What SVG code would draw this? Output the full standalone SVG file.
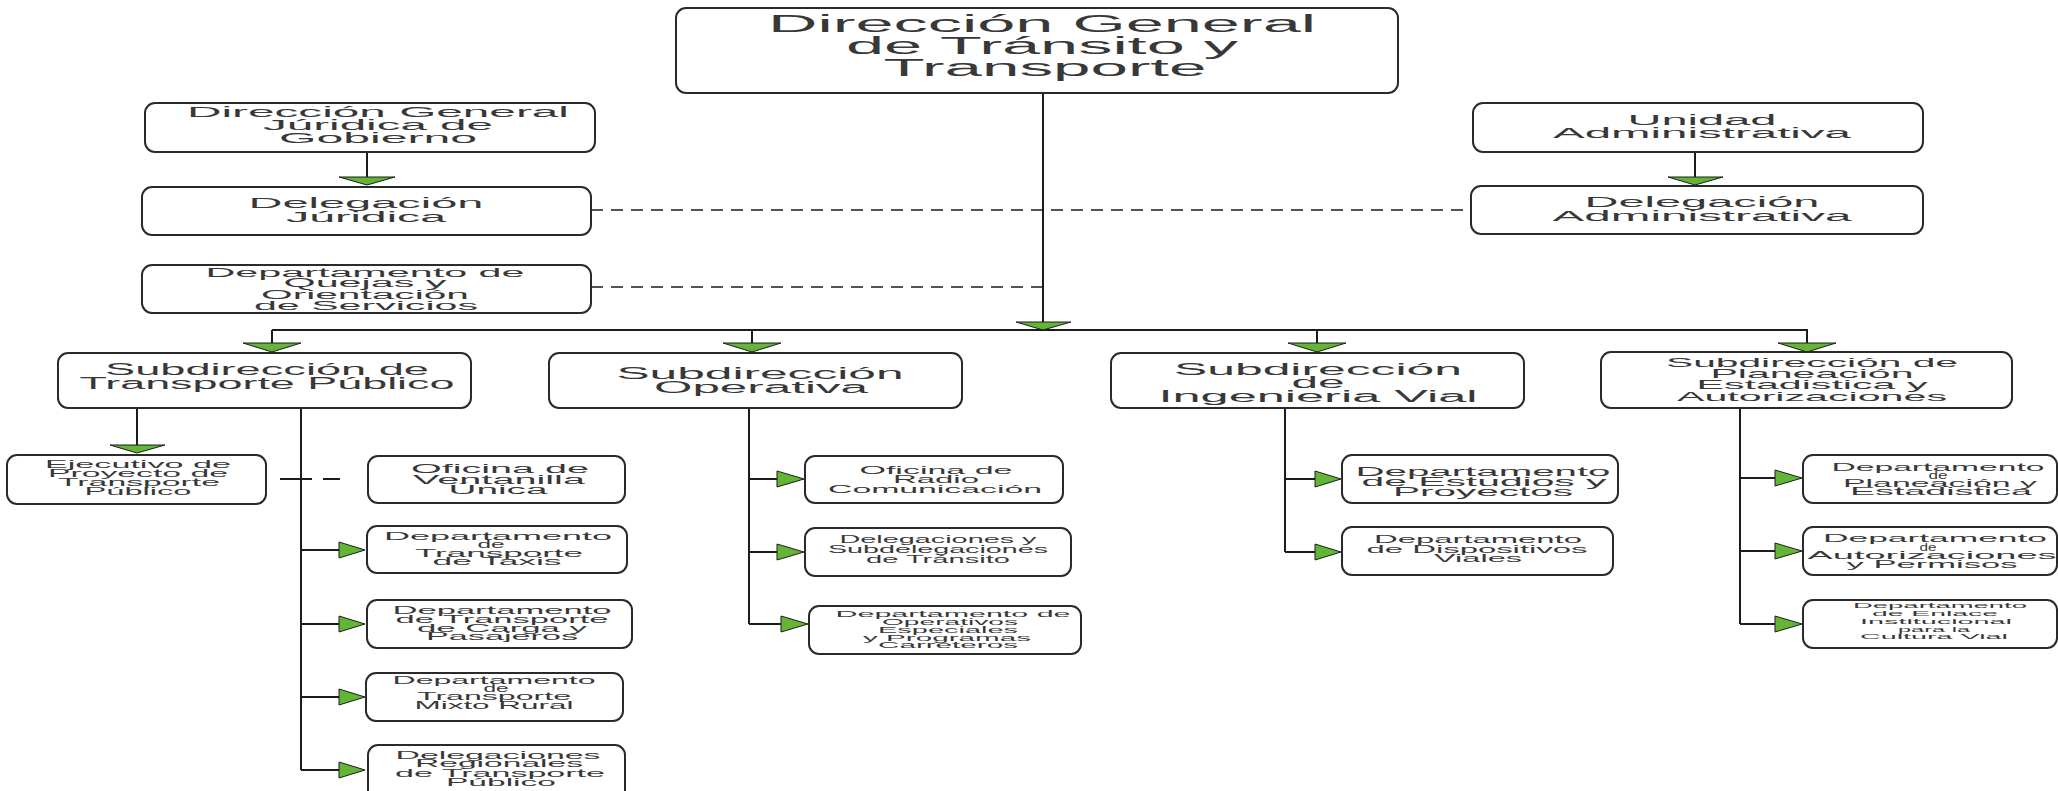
<svg xmlns="http://www.w3.org/2000/svg" width="2058" height="791" viewBox="0 0 2058 791">
  <style>
    .box { fill: #ffffff; stroke: #2a2a2a; stroke-width: 2; }
    .lbl { font-family: "Liberation Sans", Arial, sans-serif; fill: #383838; text-anchor: middle; }
    .wire { fill: none; stroke: #1c1c1c; stroke-width: 2; }
    .dash { fill: none; stroke: #1c1c1c; stroke-width: 1.5; stroke-dasharray: 12 8; }
    .head { fill: #62b535; stroke: #1c1c1c; stroke-width: 1; }
  </style>

  <!-- connectors -->
  <g id="connectors">
    <!-- main trunk and bus -->
    <path class="wire" d="M1043 93 V322"/>
    <path class="wire" d="M272 330 H1808" stroke-width="1.5"/>
    <path class="dash" d="M591 210 H1471"/>
    <path class="dash" d="M591 287 H1043"/>
    <polygon class="head" points="1016,322 1071,322 1043,330"/>

    <!-- drops to sub-directorates -->
    <path class="wire" d="M272 330 V343 M752 330 V343 M1317 330 V343 M1807 330 V343"/>
    <polygon class="head" points="243,343 301,343 272,352"/>
    <polygon class="head" points="723,343 781,343 752,352"/>
    <polygon class="head" points="1288,343 1346,343 1317,352"/>
    <polygon class="head" points="1778,343 1836,343 1807,352"/>

    <!-- side chains -->
    <path class="wire" d="M367 152 V177"/>
    <polygon class="head" points="339,177 395,177 367,185"/>
    <path class="wire" d="M1695 152 V177"/>
    <polygon class="head" points="1668,177 1723,177 1695,185"/>

    <!-- Transporte Público branch -->
    <path class="wire" d="M137 408 V445"/>
    <polygon class="head" points="110,445 165,445 137,453"/>
    <path class="wire" d="M301 408 V770 M301 550 H339 M301 624 H339 M301 697 H339 M301 770 H339"/>
    <path class="wire" d="M280 479 H312 M323 479 H340" stroke-width="1.5"/>
    <polygon class="head" points="339,542 339,558 365,550"/>
    <polygon class="head" points="339,616 339,632 365,624"/>
    <polygon class="head" points="339,689 339,705 365,697"/>
    <polygon class="head" points="339,762 339,778 365,770"/>

    <!-- Operativa branch -->
    <path class="wire" d="M749 408 V624 M749 479 H777 M749 552 H777 M749 624 H781"/>
    <polygon class="head" points="777,471 777,487 804,479"/>
    <polygon class="head" points="777,544 777,560 804,552"/>
    <polygon class="head" points="781,616 781,632 808,624"/>

    <!-- Ingenieria Vial branch -->
    <path class="wire" d="M1285 408 V552 M1285 479 H1315 M1285 552 H1315"/>
    <polygon class="head" points="1315,471 1315,487 1341,479"/>
    <polygon class="head" points="1315,544 1315,560 1341,552"/>

    <!-- Planeacion branch -->
    <path class="wire" d="M1740 408 V624 M1740 478 H1775 M1740 551 H1775 M1740 624 H1775"/>
    <polygon class="head" points="1775,470 1775,486 1802,478"/>
    <polygon class="head" points="1775,543 1775,559 1802,551"/>
    <polygon class="head" points="1775,616 1775,632 1802,624"/>
  </g>

  <!-- top directorate -->
  <g id="dg-transito">
    <rect class="box" x="676" y="8" width="722" height="85" rx="10"/>
    <g class="lbl" font-size="23">
      <text x="1042" y="32" textLength="548" lengthAdjust="spacingAndGlyphs">Dirección General</text>
      <text x="1042" y="54" textLength="392" lengthAdjust="spacingAndGlyphs">de Tránsito y</text>
      <text x="1045" y="76" textLength="323" lengthAdjust="spacingAndGlyphs">Transporte</text>
    </g>
  </g>

  <g id="dg-juridica">
    <rect class="box" x="145" y="103" width="450" height="49" rx="10"/>
    <g class="lbl" font-size="14">
      <text x="378" y="117" textLength="382" lengthAdjust="spacingAndGlyphs">Dirección General</text>
      <text x="378" y="130" textLength="230" lengthAdjust="spacingAndGlyphs">Júridica de</text>
      <text x="378" y="143" textLength="198" lengthAdjust="spacingAndGlyphs">Gobierno</text>
    </g>
  </g>

  <g id="delegacion-juridica">
    <rect class="box" x="142" y="187" width="449" height="48" rx="10"/>
    <g class="lbl" font-size="14">
      <text x="366" y="208" textLength="235" lengthAdjust="spacingAndGlyphs">Delegación</text>
      <text x="366" y="222" textLength="160" lengthAdjust="spacingAndGlyphs">Júridica</text>
    </g>
  </g>

  <g id="quejas">
    <rect class="box" x="142" y="265" width="449" height="48" rx="10"/>
    <g class="lbl" font-size="12">
      <text x="365" y="277" textLength="319" lengthAdjust="spacingAndGlyphs">Departamento de</text>
      <text x="365" y="287" textLength="163" lengthAdjust="spacingAndGlyphs">Quejas y</text>
      <text x="365" y="299" textLength="208" lengthAdjust="spacingAndGlyphs">Orientación</text>
      <text x="366" y="310" textLength="224" lengthAdjust="spacingAndGlyphs">de Servicios</text>
    </g>
  </g>

  <g id="unidad-administrativa">
    <rect class="box" x="1473" y="103" width="450" height="49" rx="10"/>
    <g class="lbl" font-size="14">
      <text x="1702" y="125" textLength="149" lengthAdjust="spacingAndGlyphs">Unidad</text>
      <text x="1702" y="138" textLength="298" lengthAdjust="spacingAndGlyphs">Administrativa</text>
    </g>
  </g>

  <g id="delegacion-administrativa">
    <rect class="box" x="1471" y="186" width="452" height="48" rx="10"/>
    <g class="lbl" font-size="14">
      <text x="1702" y="207" textLength="235" lengthAdjust="spacingAndGlyphs">Delegación</text>
      <text x="1702" y="221" textLength="299" lengthAdjust="spacingAndGlyphs">Administrativa</text>
    </g>
  </g>

  <!-- sub-directorates -->
  <g id="sub-transporte-publico">
    <rect class="box" x="58" y="353" width="413" height="55" rx="10"/>
    <g class="lbl" font-size="16">
      <text x="267" y="375" textLength="324" lengthAdjust="spacingAndGlyphs">Subdirección de</text>
      <text x="267" y="389" textLength="375" lengthAdjust="spacingAndGlyphs">Transporte Público</text>
    </g>
  </g>

  <g id="sub-operativa">
    <rect class="box" x="549" y="353" width="413" height="55" rx="10"/>
    <g class="lbl" font-size="16">
      <text x="760" y="379" textLength="287" lengthAdjust="spacingAndGlyphs">Subdirección</text>
      <text x="761" y="393" textLength="214" lengthAdjust="spacingAndGlyphs">Operativa</text>
    </g>
  </g>

  <g id="sub-ingenieria-vial">
    <rect class="box" x="1111" y="353" width="413" height="55" rx="10"/>
    <g class="lbl" font-size="16">
      <text x="1318" y="375" textLength="288" lengthAdjust="spacingAndGlyphs">Subdirección</text>
      <text x="1318" y="388" textLength="53" lengthAdjust="spacingAndGlyphs">de</text>
      <text x="1318" y="402" textLength="319" lengthAdjust="spacingAndGlyphs">Ingenieria Vial</text>
    </g>
  </g>

  <g id="sub-planeacion">
    <rect class="box" x="1601" y="352" width="411" height="56" rx="10"/>
    <g class="lbl" font-size="13">
      <text x="1812" y="367" textLength="292" lengthAdjust="spacingAndGlyphs">Subdirección de</text>
      <text x="1812" y="378" textLength="203" lengthAdjust="spacingAndGlyphs">Planeación</text>
      <text x="1812" y="389" textLength="231" lengthAdjust="spacingAndGlyphs">Estadistica y</text>
      <text x="1812" y="401" textLength="270" lengthAdjust="spacingAndGlyphs">Autorizaciones</text>
    </g>
  </g>

  <!-- Transporte Público departments -->
  <g id="ejecutivo-proyecto">
    <rect class="box" x="7" y="455" width="259" height="49" rx="10"/>
    <g class="lbl" font-size="11">
      <text x="138" y="468" textLength="186" lengthAdjust="spacingAndGlyphs">Ejecutivo de</text>
      <text x="138" y="477" textLength="180" lengthAdjust="spacingAndGlyphs">Proyecto de</text>
      <text x="139" y="486" textLength="162" lengthAdjust="spacingAndGlyphs">Transporte</text>
      <text x="138" y="495" textLength="107" lengthAdjust="spacingAndGlyphs">Público</text>
    </g>
  </g>

  <g id="ventanilla-unica">
    <rect class="box" x="368" y="456" width="257" height="47" rx="10"/>
    <g class="lbl" font-size="12">
      <text x="500" y="473" textLength="178" lengthAdjust="spacingAndGlyphs">Oficina de</text>
      <text x="499" y="484" textLength="172" lengthAdjust="spacingAndGlyphs">Ventanilla</text>
      <text x="498" y="494" textLength="99" lengthAdjust="spacingAndGlyphs">Única</text>
    </g>
  </g>

  <g id="transporte-taxis">
    <rect class="box" x="367" y="526" width="260" height="47" rx="10"/>
    <g class="lbl" font-size="10">
      <text x="498" y="540" textLength="228" lengthAdjust="spacingAndGlyphs">Departamento</text>
      <text x="491" y="548" textLength="27" lengthAdjust="spacingAndGlyphs">de</text>
      <text x="499" y="557" textLength="168" lengthAdjust="spacingAndGlyphs">Transporte</text>
      <text x="497" y="565" textLength="129" lengthAdjust="spacingAndGlyphs">de Taxis</text>
    </g>
  </g>

  <g id="transporte-carga">
    <rect class="box" x="367" y="600" width="265" height="48" rx="10"/>
    <g class="lbl" font-size="10">
      <text x="502" y="614" textLength="219" lengthAdjust="spacingAndGlyphs">Departamento</text>
      <text x="502" y="623" textLength="213" lengthAdjust="spacingAndGlyphs">de Transporte</text>
      <text x="502" y="632" textLength="170" lengthAdjust="spacingAndGlyphs">de Carga y</text>
      <text x="502" y="640" textLength="152" lengthAdjust="spacingAndGlyphs">Pasajeros</text>
    </g>
  </g>

  <g id="transporte-mixto">
    <rect class="box" x="366" y="673" width="257" height="48" rx="10"/>
    <g class="lbl" font-size="10">
      <text x="494" y="684" textLength="203" lengthAdjust="spacingAndGlyphs">Departamento</text>
      <text x="496" y="692" textLength="25" lengthAdjust="spacingAndGlyphs">de</text>
      <text x="494" y="700" textLength="154" lengthAdjust="spacingAndGlyphs">Transporte</text>
      <text x="494" y="709" textLength="159" lengthAdjust="spacingAndGlyphs">Mixto Rural</text>
    </g>
  </g>

  <g id="delegaciones-regionales">
    <rect class="box" x="368" y="745" width="257" height="60" rx="10"/>
    <g class="lbl" font-size="10">
      <text x="498" y="759" textLength="205" lengthAdjust="spacingAndGlyphs">Delegaciones</text>
      <text x="499" y="767" textLength="168" lengthAdjust="spacingAndGlyphs">Regionales</text>
      <text x="500" y="777" textLength="210" lengthAdjust="spacingAndGlyphs">de Transporte</text>
      <text x="501" y="786" textLength="110" lengthAdjust="spacingAndGlyphs">Público</text>
    </g>
  </g>

  <!-- Operativa departments -->
  <g id="radio-comunicacion">
    <rect class="box" x="805" y="456" width="258" height="47" rx="10"/>
    <g class="lbl" font-size="11">
      <text x="936" y="474" textLength="153" lengthAdjust="spacingAndGlyphs">Oficina de</text>
      <text x="936" y="483" textLength="86" lengthAdjust="spacingAndGlyphs">Radio</text>
      <text x="935" y="493" textLength="214" lengthAdjust="spacingAndGlyphs">Comunicación</text>
    </g>
  </g>

  <g id="delegaciones-transito">
    <rect class="box" x="805" y="528" width="266" height="48" rx="10"/>
    <g class="lbl" font-size="10">
      <text x="938" y="543" textLength="197" lengthAdjust="spacingAndGlyphs">Delegaciones y</text>
      <text x="938" y="553" textLength="220" lengthAdjust="spacingAndGlyphs">Subdelegaciones</text>
      <text x="938" y="563" textLength="144" lengthAdjust="spacingAndGlyphs">de Tránsito</text>
    </g>
  </g>

  <g id="operativos-especiales">
    <rect class="box" x="809" y="606" width="272" height="48" rx="10"/>
    <g class="lbl" font-size="9">
      <text x="953" y="617" textLength="235" lengthAdjust="spacingAndGlyphs">Departamento de</text>
      <text x="950" y="625" textLength="136" lengthAdjust="spacingAndGlyphs">Operativos</text>
      <text x="948" y="633" textLength="140" lengthAdjust="spacingAndGlyphs">Especiales</text>
      <text x="947" y="641" textLength="168" lengthAdjust="spacingAndGlyphs">y Programas</text>
      <text x="948" y="648" textLength="140" lengthAdjust="spacingAndGlyphs">Carreteros</text>
    </g>
  </g>

  <!-- Ingenieria Vial departments -->
  <g id="estudios-proyectos">
    <rect class="box" x="1342" y="455" width="276" height="48" rx="10"/>
    <g class="lbl" font-size="12">
      <text x="1483" y="476" textLength="255" lengthAdjust="spacingAndGlyphs">Departamento</text>
      <text x="1484" y="486" textLength="245" lengthAdjust="spacingAndGlyphs">de Estudios y</text>
      <text x="1483" y="496" textLength="180" lengthAdjust="spacingAndGlyphs">Proyectos</text>
    </g>
  </g>

  <g id="dispositivos-viales">
    <rect class="box" x="1342" y="527" width="271" height="48" rx="10"/>
    <g class="lbl" font-size="11">
      <text x="1478" y="543" textLength="208" lengthAdjust="spacingAndGlyphs">Departamento</text>
      <text x="1477" y="553" textLength="221" lengthAdjust="spacingAndGlyphs">de Dispositivos</text>
      <text x="1478" y="562" textLength="88" lengthAdjust="spacingAndGlyphs">Viales</text>
    </g>
  </g>

  <!-- Planeacion departments -->
  <g id="planeacion-estadistica">
    <rect class="box" x="1803" y="455" width="254" height="48" rx="10"/>
    <g class="lbl" font-size="10">
      <text x="1938" y="471" textLength="213" lengthAdjust="spacingAndGlyphs">Departamento</text>
      <text x="1938" y="479" textLength="19" lengthAdjust="spacingAndGlyphs">de</text>
      <text x="1940" y="487" textLength="194" lengthAdjust="spacingAndGlyphs">Planeación y</text>
      <text x="1941" y="495" textLength="182" lengthAdjust="spacingAndGlyphs">Estadistica</text>
    </g>
  </g>

  <g id="autorizaciones-permisos">
    <rect class="box" x="1803" y="527" width="254" height="48" rx="10"/>
    <g class="lbl" font-size="10">
      <text x="1935" y="542" textLength="224" lengthAdjust="spacingAndGlyphs">Departamento</text>
      <text x="1928" y="551" textLength="17" lengthAdjust="spacingAndGlyphs">de</text>
      <text x="1932" y="559" textLength="249" lengthAdjust="spacingAndGlyphs">Autorizaciones</text>
      <text x="1932" y="568" textLength="171" lengthAdjust="spacingAndGlyphs">y Permisos</text>
    </g>
  </g>

  <g id="enlace-cultura-vial">
    <rect class="box" x="1803" y="600" width="254" height="48" rx="10"/>
    <g class="lbl" font-size="8">
      <text x="1940" y="608" textLength="174" lengthAdjust="spacingAndGlyphs">Departamento</text>
      <text x="1935" y="616" textLength="126" lengthAdjust="spacingAndGlyphs">de Enlace</text>
      <text x="1936" y="624" textLength="152" lengthAdjust="spacingAndGlyphs">Institucional</text>
      <text x="1934" y="632" textLength="72" lengthAdjust="spacingAndGlyphs">para la</text>
      <text x="1934" y="639" textLength="148" lengthAdjust="spacingAndGlyphs">Cultura Vial</text>
    </g>
  </g>
</svg>
